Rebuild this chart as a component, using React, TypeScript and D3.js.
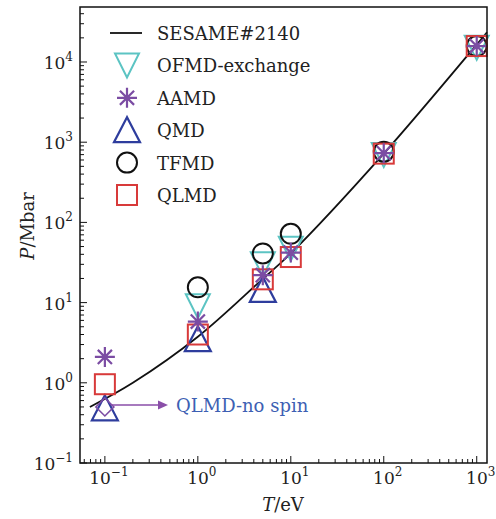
import { useRef, useEffect } from "react";
import * as d3 from "d3";

// temperatures (eV) for the simulation points
const temps = [0.1, 1, 5, 10, 100, 1000];

// pressures (Mbar), null where no point is drawn
const ofmd = [null, 9, 30, 47, 690, 15000];
const aamd = [2.1, 5.8, 22, 42, 730, 15800];
const qmd = [0.48, 3.5, 14.4, null, null, null];
const tfmd = [null, 15.5, 41, 72, 760, 15800];
const qlmd = [0.96, 4.0, 19.5, 37, 720, 15800];
const noSpin = { t: 0.1, p: 0.5 };

// SESAME#2140 curve
const sesameT = [0.069, 0.2, 1, 5, 10, 100, 1000, 1290];
const sesameP = [0.5, 1.0, 3.75, 19.8, 41, 720, 16500, 23500];

const xTicks = [-1, 0, 1, 2, 3];
const yTicks = [-1, 0, 1, 2, 3, 4];

const FONT = "DejaVu Serif, serif";
const C = { cyan: "#5cc4c3", purple: "#7b4ca3", blue: "#2e3d9d", black: "#111", red: "#d83a3a" };

type Shape = "down" | "up" | "circle" | "square" | "star";

function drawMarker(g: any, shape: Shape, x: number, y: number, color: string) {
	if (shape === "circle") {
		g.append("circle").attr("cx", x).attr("cy", y).attr("r", 10).attr("fill", "none").attr("stroke", color).attr("stroke-width", 2);
	} else if (shape === "square") {
		g.append("rect").attr("x", x - 10).attr("y", y - 10).attr("width", 20).attr("height", 20).attr("fill", "none").attr("stroke", color).attr("stroke-width", 2);
	} else if (shape === "down") {
		g.append("path").attr("d", `M${x - 12},${y - 12}L${x + 12},${y - 12}L${x},${y + 12}Z`).attr("fill", "none").attr("stroke", color).attr("stroke-width", 2);
	} else if (shape === "up") {
		g.append("path").attr("d", `M${x},${y - 13}L${x - 13},${y + 12}L${x + 13},${y + 12}Z`).attr("fill", "none").attr("stroke", color).attr("stroke-width", 2.2);
	} else {
		const r = 10;
		let d = "";
		for (let k = 0; k < 4; k++) {
			const a = (k * Math.PI) / 4;
			d += `M${x - r * Math.cos(a)},${y - r * Math.sin(a)}L${x + r * Math.cos(a)},${y + r * Math.sin(a)}`;
		}
		g.append("path").attr("d", d).attr("stroke", color).attr("stroke-width", 2.2);
	}
}

function powLabel(sel: any, exp: number) {
	sel.append("tspan").text("10");
	sel.append("tspan").attr("dy", -8).attr("font-size", 12).text(exp < 0 ? `\u2212${-exp}` : `${exp}`);
}

export default function App() {
	const ref = useRef<SVGSVGElement>(null);

	useEffect(() => {
		const width = 496;
		const height = 519;
		const margin = { top: 7, right: 9, bottom: 56, left: 80 };

		const svg = d3.select(ref.current);
		svg.selectAll("*").remove();

		const x = d3.scaleLog().domain([0.054, 1290]).range([margin.left, width - margin.right]);
		const y = d3.scaleLog().domain([0.1, 48500]).range([height - margin.bottom, margin.top]);

		const x0 = margin.left, x1 = width - margin.right, y0 = margin.top, y1 = height - margin.bottom;

		// ---- ticks (inside) ----
		const tg = svg.append("g").attr("stroke", "#111").attr("stroke-width", 1);
		for (let e = -2; e <= 4; e++) {
			for (let m = 1; m <= 9; m++) {
				const v = m * Math.pow(10, e);
				const len = m === 1 ? 7 : 4;
				if (v >= 0.054 && v <= 1290) {
					const px = x(v);
					tg.append("line").attr("x1", px).attr("x2", px).attr("y1", y1).attr("y2", y1 - len);
				}
				if (v >= 0.1 && v <= 48500) {
					const py = y(v);
					tg.append("line").attr("x1", x0).attr("x2", x0 + len).attr("y1", py).attr("y2", py);
				}
			}
		}

		// ---- tick labels ----
		xTicks.forEach((e) => {
			const t = svg.append("text").attr("x", x(Math.pow(10, e)) + 4).attr("y", 484).attr("text-anchor", "middle")
				.attr("font-family", FONT).attr("font-size", 17).attr("fill", "#222");
			powLabel(t, e);
		});
		yTicks.forEach((e) => {
			const t = svg.append("text").attr("x", 73).attr("y", y(Math.pow(10, e)) + 7).attr("text-anchor", "end")
				.attr("font-family", FONT).attr("font-size", 17).attr("fill", "#222");
			powLabel(t, e);
		});

		// ---- axis titles ----
		const xt = svg.append("text").attr("x", 283).attr("y", 511).attr("text-anchor", "middle")
			.attr("font-family", FONT).attr("font-size", 18).attr("fill", "#222");
		xt.append("tspan").attr("font-style", "italic").text("T");
		xt.append("tspan").text("/eV");

		const yt = svg.append("text").attr("transform", "translate(34,226) rotate(-90)").attr("text-anchor", "middle")
			.attr("font-family", FONT).attr("font-size", 18).attr("fill", "#222");
		yt.append("tspan").attr("font-style", "italic").text("P");
		yt.append("tspan").text("/Mbar");

		// ---- SESAME curve ----
		const line = d3.line<number>()
			.x((_, i) => x(sesameT[i]))
			.y((d) => y(d))
			.curve(d3.curveCatmullRom.alpha(0.5));
		svg.append("path").attr("d", line(sesameP)).attr("fill", "none").attr("stroke", "#111").attr("stroke-width", 1.8);

		// ---- points ----
		const pg = svg.append("g");
		const sets: { vals: (number | null)[]; shape: Shape; color: string }[] = [
			{ vals: ofmd, shape: "down", color: C.cyan },
			{ vals: qmd, shape: "up", color: C.blue },
			{ vals: tfmd, shape: "circle", color: C.black },
			{ vals: qlmd, shape: "square", color: C.red },
			{ vals: aamd, shape: "star", color: C.purple },
		];
		sets.forEach((s) => {
			s.vals.forEach((v, i) => {
				if (v != null) drawMarker(pg, s.shape, x(temps[i]), y(v), s.color);
			});
		});

		// QLMD-no spin marker + arrow
		const nx = x(noSpin.t), ny = y(noSpin.p);
		pg.append("path").attr("d", `M${nx},${ny - 9}L${nx + 9},${ny}L${nx},${ny + 9}L${nx - 9},${ny}Z`)
			.attr("fill", "none").attr("stroke", C.purple).attr("stroke-width", 1.6);
		svg.append("line").attr("x1", nx + 6).attr("x2", 160).attr("y1", ny - 2).attr("y2", ny - 2)
			.attr("stroke", "#8a4ea8").attr("stroke-width", 1.6);
		svg.append("path").attr("d", `M168,${ny - 2}L158,${ny - 6.5}L158,${ny + 2.5}Z`).attr("fill", "#8a4ea8");
		svg.append("text").attr("x", 176).attr("y", ny + 5).attr("font-family", FONT).attr("font-size", 18)
			.attr("fill", "#3d5fb3").text("QLMD-no spin");

		// ---- legend ----
		const lg = svg.append("g");
		const items: { label: string; shape: Shape | "line"; color: string }[] = [
			{ label: "SESAME#2140", shape: "line", color: "#111" },
			{ label: "OFMD-exchange", shape: "down", color: C.cyan },
			{ label: "AAMD", shape: "star", color: C.purple },
			{ label: "QMD", shape: "up", color: C.blue },
			{ label: "TFMD", shape: "circle", color: C.black },
			{ label: "QLMD", shape: "square", color: C.red },
		];
		items.forEach((it, i) => {
			const cy = 33 + i * 32.4;
			if (it.shape === "line") {
				lg.append("line").attr("x1", 110).attr("x2", 142).attr("y1", cy).attr("y2", cy).attr("stroke", it.color).attr("stroke-width", 1.8);
			} else {
				drawMarker(lg, it.shape, 127, cy, it.color);
			}
			lg.append("text").attr("x", 157).attr("y", cy + 7).attr("font-family", FONT).attr("font-size", 18)
				.attr("fill", "#222").text(it.label);
		});

		// ---- frame ----
		svg.append("rect").attr("x", x0).attr("y", y0).attr("width", x1 - x0).attr("height", y1 - y0)
			.attr("fill", "none").attr("stroke", "#111").attr("stroke-width", 1.5);
	}, []);

	return (
		<svg ref={ref} width={496} height={519}
			style={{ position: "absolute", left: 0, top: 0, background: "#fff", display: "block" }} />
	);
}
